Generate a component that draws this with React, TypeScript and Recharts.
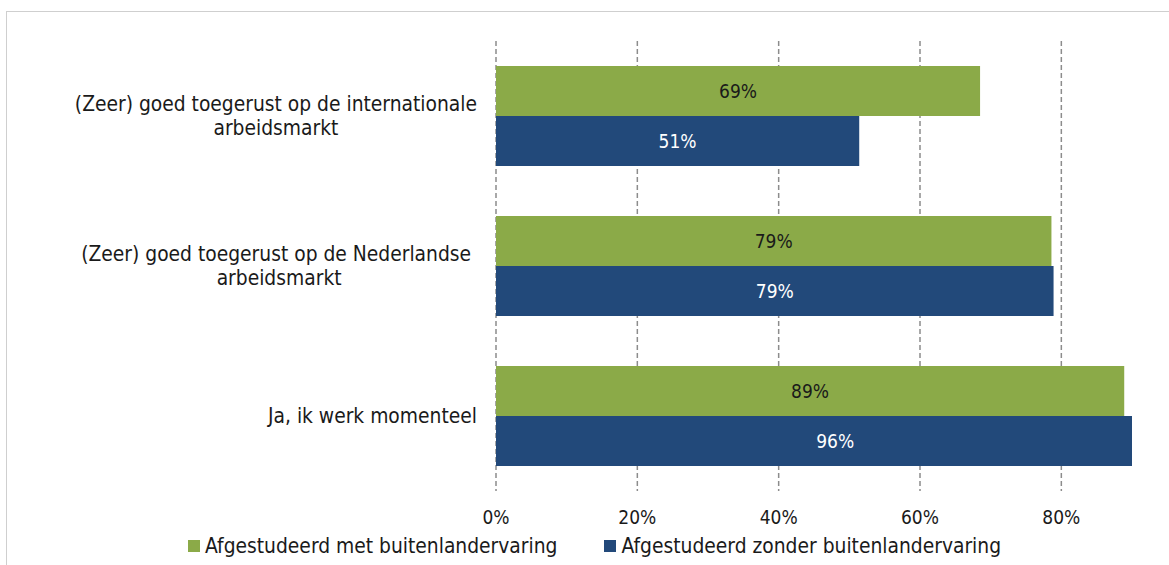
import React from 'react';
import { BarChart, Bar, XAxis, YAxis, CartesianGrid, LabelList, Legend } from 'recharts';

const categories = [
  '(Zeer) goed toegerust op de internationale\narbeidsmarkt',
  '(Zeer) goed toegerust op de Nederlandse \narbeidsmarkt',
  'Ja, ik werk momenteel',
];
const metBuitenland = [68.5, 78.6, 88.9];
const zonderBuitenland = [51.4, 78.9, 96];
const seriesNames = ['Afgestudeerd met buitenlandervaring', 'Afgestudeerd zonder buitenlandervaring'];
const seriesColors = ['#8BAA48', '#22497A'];
const xTicks = [0, 20, 40, 60, 80];
const xMax = 90;

const data = categories.map((cat, i) => ({ cat, met: metBuitenland[i], zonder: zonderBuitenland[i] }));

const FONT = '"DejaVu Sans Condensed", "DejaVu Sans", sans-serif';
const LABEL_SIZE = 20.8;
const TEXT = '#1a1a1a';

let ctx: CanvasRenderingContext2D | null = null;
function measure(t: string, size: number): number {
  if (!ctx) ctx = document.createElement('canvas').getContext('2d');
  if (!ctx) return t.length * size * 0.5;
  ctx.font = `${size}px ${FONT}`;
  return ctx.measureText(t).width;
}

const CategoryTick = (props: any) => {
  const { y, payload } = props;
  const lines = String(payload.value).split('\n');
  const widths = lines.map((l) => measure(l, LABEL_SIZE));
  const maxW = Math.max(...widths);
  const right = 477;
  const lineH = 24;
  const startY = y - ((lines.length - 1) * lineH) / 2;
  return (
    <g>
      {lines.map((l, i) => (
        <text
          key={i}
          x={right - maxW + (maxW - widths[i]) / 2}
          y={startY + i * lineH}
          dy="0.36em"
          textAnchor="start"
          fontFamily={FONT}
          fontSize={LABEL_SIZE}
          fill={TEXT}
        >
          {l.trimEnd()}
        </text>
      ))}
    </g>
  );
};

const renderLegend = () => (
  <div
    style={{
      display: 'flex',
      alignItems: 'center',
      paddingLeft: 188,
      gap: 47,
      height: 22,
      fontFamily: FONT,
      fontSize: LABEL_SIZE,
      color: TEXT,
      whiteSpace: 'nowrap',
    }}
  >
    {seriesNames.map((n, i) => (
      <div key={n} style={{ display: 'flex', alignItems: 'center' }}>
        <span style={{ display: 'inline-block', width: 12, height: 12, background: seriesColors[i], marginRight: 5 }} />
        <span>{n}</span>
      </div>
    ))}
  </div>
);

const pct = (v: any) => `${Math.round(Number(v))}%`;

const gridX = (p: any) =>
  xTicks.map((t) =>
    p && p.xAxis && typeof p.xAxis.scale === 'function'
      ? p.xAxis.scale(t)
      : p.offset.left + (t / xMax) * p.offset.width
  );

export default function App() {
  return (
    <div style={{ position: 'absolute', left: 0, top: 0, width: 1169, height: 565, overflow: 'hidden', background: '#fff' }}>
      <div
        style={{
          position: 'absolute',
          left: 6,
          top: 11,
          width: 1200,
          height: 600,
          border: '1.5px solid #cfcfcf',
        }}
      />
      <div style={{ position: 'absolute', left: 0, top: 0 }}>
        <BarChart
          width={1169}
          height={565}
          data={data}
          layout="vertical"
          margin={{ top: 41, right: 37, bottom: 0, left: 0 }}
          barCategoryGap={25}
          barGap={0}
        >
          <CartesianGrid
            horizontal={false}
            stroke="#8c8c8c"
            strokeWidth={1.5}
            strokeDasharray="5 3"
            verticalCoordinatesGenerator={gridX}
          />
          <XAxis
            type="number"
            domain={[0, xMax]}
            allowDataOverflow
            ticks={xTicks}
            tickFormatter={(v) => `${v}%`}
            axisLine={false}
            tickLine={false}
            tickMargin={14}
            height={74}
            tick={{ fontFamily: FONT, fontSize: 19, fill: TEXT }}
          />
          <YAxis
            type="category"
            dataKey="cat"
            width={496}
            axisLine={false}
            tickLine={false}
            interval={0}
            tick={<CategoryTick />}
          />
          <Legend
            layout="horizontal"
            verticalAlign="middle"
            align="center"
            wrapperStyle={{ top: 535, left: 0, width: 1169 }}
            content={renderLegend}
          />
          <Bar dataKey="met" name={seriesNames[0]} fill={seriesColors[0]} isAnimationActive={false}>
            <LabelList dataKey="met" position="center" formatter={pct} fill={TEXT} fontFamily={FONT} fontSize={19} />
          </Bar>
          <Bar dataKey="zonder" name={seriesNames[1]} fill={seriesColors[1]} isAnimationActive={false}>
            <LabelList dataKey="zonder" position="center" formatter={pct} fill="#ffffff" fontFamily={FONT} fontSize={19} />
          </Bar>
        </BarChart>
      </div>
    </div>
  );
}
